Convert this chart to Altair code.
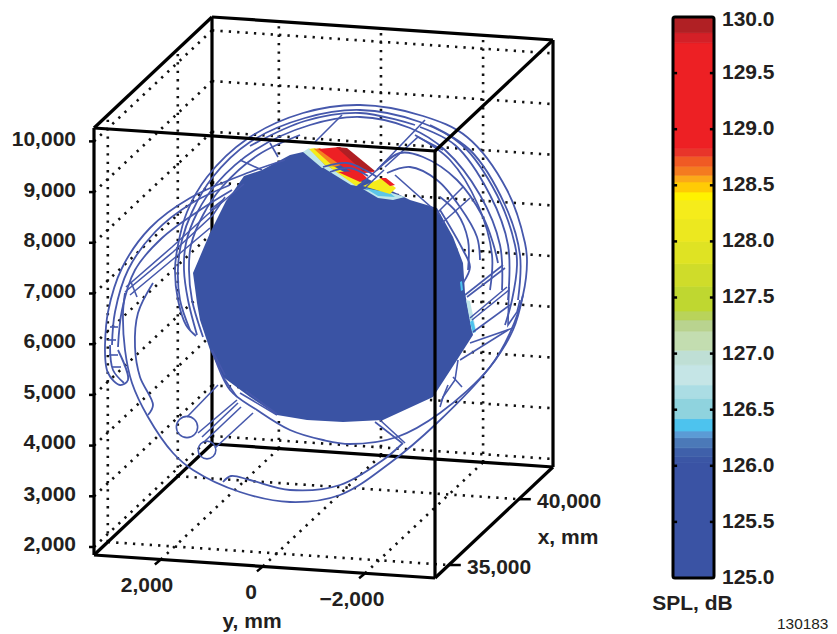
import altair as alt
import pandas as pd

FONT = "Liberation Sans"
INK = "#231f20"
BLUE = "#3a53a4"
WIRE = "#4658ac"

# axis extents (mm)
X_MIN, X_MAX = 34014, 42444
Y_MIN, Y_MAX = -3369, 3309
Z_MIN, Z_MAX = 1842, 10264
x_ticks = [35000, 40000]
y_ticks = [2000, 0, -2000]
z_ticks = [2000, 3000, 4000, 5000, 6000, 7000, 8000, 9000, 10000]

# picture position of the front lower left corner, and the three box edge vectors
ORIGIN = (94, 555)
EDGE_Y = (341, 23)
EDGE_X = (118, -111)
EDGE_Z = (0, -427)


def project(x, y, z):
    fx = (x - X_MIN) / (X_MAX - X_MIN)
    fy = (Y_MAX - y) / (Y_MAX - Y_MIN)
    fz = (z - Z_MIN) / (Z_MAX - Z_MIN)
    return (ORIGIN[0] + fy * EDGE_Y[0] + fx * EDGE_X[0] + fz * EDGE_Z[0],
            ORIGIN[1] + fy * EDGE_Y[1] + fx * EDGE_X[1] + fz * EDGE_Z[1])


def seg(a, b):
    return [project(*a), project(*b)]


# dotted grid
grid_segs = []
for z in z_ticks:
    grid_segs.append(seg((X_MAX, Y_MAX, z), (X_MAX, Y_MIN, z)))
    grid_segs.append(seg((X_MIN, Y_MAX, z), (X_MAX, Y_MAX, z)))
for y in y_ticks:
    grid_segs.append(seg((X_MAX, y, Z_MIN), (X_MAX, y, Z_MAX)))
    grid_segs.append(seg((X_MIN, y, Z_MIN), (X_MAX, y, Z_MIN)))
for x in x_ticks:
    grid_segs.append(seg((x, Y_MAX, Z_MIN), (x, Y_MAX, Z_MAX)))
    grid_segs.append(seg((x, Y_MAX, Z_MIN), (x, Y_MIN, Z_MIN)))

# box edges behind and in front of the surface
back_segs = [
    seg((X_MAX, Y_MAX, Z_MIN), (X_MAX, Y_MAX, Z_MAX)),
    seg((X_MAX, Y_MAX, Z_MIN), (X_MAX, Y_MIN, Z_MIN)),
    seg((X_MAX, Y_MAX, Z_MIN), (X_MIN, Y_MAX, Z_MIN)),
]
front_segs = [
    seg((X_MIN, Y_MAX, Z_MIN), (X_MIN, Y_MIN, Z_MIN)),
    seg((X_MIN, Y_MIN, Z_MIN), (X_MAX, Y_MIN, Z_MIN)),
    seg((X_MAX, Y_MIN, Z_MIN), (X_MAX, Y_MIN, Z_MAX)),
    seg((X_MAX, Y_MIN, Z_MAX), (X_MAX, Y_MAX, Z_MAX)),
    seg((X_MAX, Y_MAX, Z_MAX), (X_MIN, Y_MAX, Z_MAX)),
    seg((X_MIN, Y_MAX, Z_MAX), (X_MIN, Y_MAX, Z_MIN)),
    seg((X_MIN, Y_MAX, Z_MAX), (X_MIN, Y_MIN, Z_MAX)),
    seg((X_MIN, Y_MIN, Z_MAX), (X_MIN, Y_MIN, Z_MIN)),
    seg((X_MIN, Y_MIN, Z_MAX), (X_MAX, Y_MIN, Z_MAX)),
]
# tick stubs
tick_segs = []
for z in z_ticks:
    px, py = project(X_MIN, Y_MAX, z)
    tick_segs.append([(px, py), (px - 5, py)])
for y in y_ticks:
    px, py = project(X_MIN, y, Z_MIN)
    tick_segs.append([(px, py), (px - 6, py + 5)])
for x in x_ticks:
    px, py = project(x, Y_MIN, Z_MIN)
    tick_segs.append([(px, py), (px + 12, py)])

# surface outline
blob = [(303, 152), (290, 155), (262, 170), (244, 176), (233, 192), (226, 201), (210, 233), (193, 273),
        (197, 303), (200, 320), (210, 350), (223, 377), (250, 397), (277, 415), (307, 420), (343, 422),
        (383, 420), (433, 397), (457, 360), (473, 335), (465, 293), (463, 263), (453, 237), (437, 208),
        (410, 200), (360, 175), (320, 150)]

# hot patches on the surface: colour, corner list
hot_patches = [
    ("#bfe6ea", [(303, 152), (309, 148), (327, 167), (322, 168)]),
    ("#f5ec1b", [(309, 149), (315, 148), (335, 167), (326, 166)]),
    ("#f58220", [(314, 149), (320, 148), (341, 165), (334, 167)]),
    ("#ed2024", [(318, 149), (340, 147), (375, 172), (355, 174), (343, 167)]),
    ("#b01f24", [(336, 147), (347, 148), (375, 171), (363, 171)]),
    ("#bfe6ea", [(322, 167), (328, 166), (358, 186), (351, 185)]),
    ("#f5ec1b", [(328, 166), (335, 167), (362, 182), (356, 186)]),
    ("#ed2024", [(338, 172), (360, 171), (367, 178), (360, 182)]),
    ("#bfe6ea", [(363, 189), (392, 193), (405, 197), (393, 200), (378, 198)]),
    ("#5cc6e8", [(365, 188), (390, 193), (395, 197), (378, 196)]),
    ("#f5ec1b", [(363, 186), (382, 178), (396, 188), (390, 194)]),
    ("#ed2024", [(380, 178), (386, 178), (395, 185), (390, 186)]),
    ("#4dc3ee", [(460, 282), (462, 281), (463, 290), (461, 291)]),
    ("#bfe6ea", [(466, 300), (470, 301), (476, 330), (472, 332)]),
    ("#4dc3ee", [(470, 322), (473, 320), (476, 332), (473, 333)]),
]

# smooth wire curves
curves = [
    [(196, 336), (186, 325), (178, 300), (175, 270), (178, 245), (187, 212), (207, 177), (247, 139), (303, 113),
     (360, 105), (423, 116), (467, 137), (507, 190), (525, 243), (527, 262), (523, 295), (510, 333), (490, 367),
     (440, 413), (397, 437), (350, 444), (323, 440), (290, 430), (257, 410), (230, 390), (212, 350)],
    [(190, 330), (180, 300), (178, 268), (182, 240), (192, 212), (212, 178), (250, 142), (305, 118), (360, 110),
     (420, 122), (462, 145), (497, 195), (515, 245), (517, 265), (512, 300), (505, 325)],
    [(197, 335), (188, 300), (184, 270), (186, 243), (197, 213), (217, 183), (255, 150), (310, 125), (360, 117),
     (410, 128), (445, 150), (480, 195), (500, 245), (502, 290)],
    [(203, 337), (192, 300), (189, 270), (191, 245), (203, 215), (222, 187), (258, 155), (300, 135)],
    [(377, 170), (400, 153), (423, 157), (457, 180), (483, 217), (493, 243), (498, 263)],
    [(387, 173), (410, 167), (437, 180), (460, 207), (477, 237), (480, 260)],
    [(440, 197), (457, 213), (468, 240), (468, 270)],
    [(440, 210), (463, 250), (470, 267), (463, 283)],
    [(430, 125), (470, 150), (505, 205), (520, 255), (518, 300)],
    [(420, 127), (455, 145), (490, 195), (508, 245), (508, 300)],
    [(415, 135), (450, 160), (478, 205), (492, 255), (490, 290)],
    [(250, 146), (305, 121), (360, 113), (415, 125)],
    [(105, 345), (108, 312), (122, 268), (150, 228), (190, 198), (250, 172), (285, 160)],
    [(112, 345), (115, 312), (128, 270), (155, 232), (192, 203), (230, 185)],
    [(118, 347), (122, 310), (135, 270), (162, 238), (200, 210), (232, 190)],
    [(105, 345), (108, 373), (120, 385), (128, 380), (118, 350)],
    [(110, 345), (113, 370), (124, 383)],
    [(153, 283), (138, 313), (135, 347), (140, 377), (153, 405), (148, 415)],
    [(125, 293), (123, 313), (125, 350), (132, 383), (148, 417), (173, 453), (193, 470), (240, 492), (290, 502),
     (340, 495), (390, 463), (437, 423), (490, 367), (513, 330), (523, 295)],
    [(223, 482), (231, 476), (250, 480), (290, 490), (340, 485), (383, 460), (403, 443)],
    [(323, 167), (347, 163), (365, 170), (377, 177)],
    [(330, 172), (350, 168), (368, 176)],
]

# straight wire pieces
struts = [
    [(315, 142), (342, 115)], [(377, 170), (425, 120)], [(385, 167), (418, 137), (443, 150)],
    [(270, 143), (278, 157)], [(437, 213), (463, 187)], [(442, 223), (470, 198)],
    [(465, 295), (503, 265)], [(467, 297), (505, 268)], [(470, 318), (507, 287)], [(472, 320), (509, 290)],
    [(473, 332), (510, 305)], [(470, 343), (513, 328)], [(460, 360), (508, 330)],
    [(509, 287), (508, 325), (517, 312), (520, 300)],
    [(458, 360), (455, 380), (443, 397), (440, 407)], [(453, 377), (462, 387)], [(448, 385), (441, 402)],
    [(187, 417), (218, 385)], [(198, 433), (237, 400)], [(202, 437), (238, 403)], [(205, 441), (241, 407)],
    [(215, 448), (253, 413)], [(212, 350), (225, 375)], [(223, 377), (237, 397)], [(240, 393), (277, 415)],
    [(246, 391), (277, 414)], [(375, 422), (402, 443)], [(380, 420), (405, 443)],
    [(125, 292), (173, 252), (213, 215), (225, 197)], [(130, 295), (178, 255), (210, 228)],
    [(126, 287), (172, 247), (207, 215), (244, 184)], [(210, 210), (223, 200)],
    [(360, 185), (377, 170)], [(366, 187), (384, 170)], [(240, 160), (262, 170)],
    [(395, 175), (440, 215)], [(110, 327), (118, 327)], [(108, 340), (116, 340)], [(109, 355), (118, 355)],
    [(112, 367), (121, 367)], [(131, 282), (137, 297)],
]

# hub circles: centre, radius
circle_x = [187, 207]
circle_y = [427, 450]
circle_r = [12, 10]

# tick and axis text
z_label_y = [545, 495, 443, 393, 342, 292, 241, 191, 140]
z_labels = ["2,000", "3,000", "4,000", "5,000", "6,000", "7,000", "8,000", "9,000", "10,000"]
text_items = [
    ("2,000", 147, 586, "center"), ("0", 251, 593, "center"), ("\u22122,000", 352, 600, "center"),
    ("y, mm", 252, 622, "center"), ("x, mm", 568, 538, "center"),
    ("35,000", 467, 568, "left"), ("40,000", 537, 502, "left"),
]
text_items += [(t, 76, v, "right") for t, v in zip(z_labels, z_label_y)]

# colour bar bands: edges between them, and one colour for each
band_edges = [125.0, 126.03, 126.08, 126.16, 126.25, 126.31, 126.42, 126.6, 126.72, 126.9, 127.03, 127.2, 127.3,
              127.38, 127.6, 127.8, 128.0, 128.2, 128.37, 128.44, 128.53, 128.59, 128.67, 128.76, 128.83, 129.77,
              129.86, 130.0]
band_colors = ["#3a53a4", "#3b56a5", "#3f60aa", "#4b79b8", "#5b9bd5", "#4dc3ee", "#8fd3de", "#abdde4",
               "#c5e5e6", "#bfdfd5", "#c3ddb0", "#b9d38f", "#b9d35a", "#bfd730", "#cfdc2a", "#dfe323",
               "#ece81f", "#f5ec1b", "#fff200", "#ffcb05", "#fba919", "#f47b20", "#f05a24", "#e8352a",
               "#ed2024", "#d42027", "#b02024"]
bar_ticks = [125.5, 126.0, 126.5, 127.0, 127.5, 128.0, 128.5, 129.0, 129.5]
bar_labels = [125.0, 125.5, 126.0, 126.5, 127.0, 127.5, 128.0, 128.5, 129.0, 129.5, 130.0]
# where each label sits: the top one is nudged down so that it stays on the page
bar_label_pos = [125.0, 125.5, 126.0, 126.5, 127.0, 127.5, 128.0, 128.5, 129.0, 129.5, 129.97]

PX_X = alt.Scale(domain=[8, 829], nice=False, zero=False)
PX_Y = alt.Scale(domain=[634, 8], nice=False, zero=False)


def frame(groups):
    rows = []
    for g, pts in enumerate(groups):
        for i, (a, b) in enumerate(pts):
            rows.append({"h": a, "v": b, "g": g, "i": i})
    return pd.DataFrame(rows)


def lines(groups, **kw):
    return alt.Chart(frame(groups)).mark_line(**kw).encode(
        x=alt.X("h:Q", scale=PX_X, axis=None),
        y=alt.Y("v:Q", scale=PX_Y, axis=None),
        detail="g:N",
        order="i:Q",
    )


def area(pts, color):
    return lines([pts], color=color, strokeWidth=0.3, interpolate="linear-closed", filled=True)


grid = lines(grid_segs, color="#111111", strokeWidth=2.6, strokeDash=[2.3, 6.1], strokeCap="butt")
back = lines(back_segs, color="#000000", strokeWidth=3.2)
surface = area(blob, BLUE)
patches = [area(p, c) for c, p in hot_patches]
wire_c = lines(curves, color=WIRE, strokeWidth=1.8, interpolate="catmull-rom")
wire_s = lines(struts, color=WIRE, strokeWidth=1.6)
hubs = alt.Chart(pd.DataFrame({"h": circle_x, "v": circle_y, "r": circle_r})).transform_calculate(
    r2="PI * datum.r * datum.r"
).mark_point(filled=False, color=WIRE, strokeWidth=1.6, opacity=1).encode(
    x=alt.X("h:Q", scale=PX_X, axis=None),
    y=alt.Y("v:Q", scale=PX_Y, axis=None),
    size=alt.Size("r2:Q", scale=None, legend=None),
)
front = lines(front_segs, color="#000000", strokeWidth=3.2)
stubs = lines(tick_segs, color="#000000", strokeWidth=2.5)

labels = []
tdf = pd.DataFrame(text_items, columns=["t", "h", "v", "a"])
for al in ["left", "center", "right"]:
    labels.append(
        alt.Chart(tdf[tdf.a == al]).mark_text(
            font=FONT, fontSize=21, fontWeight="bold", color=INK, align=al, baseline="middle"
        ).encode(
            x=alt.X("h:Q", scale=PX_X, axis=None),
            y=alt.Y("v:Q", scale=PX_Y, axis=None),
            text="t:N",
        )
    )

# colour bar, on a value scale of its own
BAR_Y = alt.Scale(domain=[124.5009, 130.0802], nice=False, zero=False)
BAR_X = alt.Scale(domain=[-16.22, 3.805], nice=False, zero=False)
bands = pd.DataFrame({"lo": band_edges[:-1], "hi": band_edges[1:], "c": band_colors, "x0": 0, "x1": 1})
bar = alt.Chart(bands).mark_rect(strokeWidth=0.7).encode(
    x=alt.X("x0:Q", scale=BAR_X, axis=None),
    x2="x1:Q",
    y=alt.Y("lo:Q", scale=BAR_Y, axis=None),
    y2="hi:Q",
    fill=alt.Fill("c:N", scale=None),
    stroke=alt.Stroke("c:N", scale=None),
)
outline = alt.Chart(pd.DataFrame({"lo": [125.0], "hi": [130.0], "x0": [0], "x1": [1]})).mark_rect(
    fill=None, stroke="#000000", strokeWidth=3, cornerRadius=2
).encode(
    x=alt.X("x0:Q", scale=BAR_X, axis=None), x2="x1:Q",
    y=alt.Y("lo:Q", scale=BAR_Y, axis=None), y2="hi:Q",
)
tk = pd.DataFrame({"v": bar_ticks * 2, "a": [0] * 9 + [0.9] * 9, "b": [0.1] * 9 + [1] * 9})
bar_ticks_layer = alt.Chart(tk).mark_rule(color="#000000", strokeWidth=2.5).encode(
    x=alt.X("a:Q", scale=BAR_X, axis=None), x2="b:Q",
    y=alt.Y("v:Q", scale=BAR_Y, axis=None),
)
bar_text = pd.DataFrame({"v": bar_label_pos, "n": bar_labels, "x": [1.195] * len(bar_labels)})
bar_text["t"] = bar_text["n"].map(lambda n: f"{n:.1f}")
bar_labels_layer = alt.Chart(bar_text).mark_text(
    font=FONT, fontSize=21, fontWeight="bold", color=INK, align="left", baseline="middle"
).encode(
    x=alt.X("x:Q", scale=BAR_X, axis=None), y=alt.Y("v:Q", scale=BAR_Y, axis=None), text="t:N"
)
note = pd.DataFrame({"t": ["SPL, dB"], "x": [0.476], "y": [124.768]})
spl = alt.Chart(note).mark_text(font=FONT, fontSize=21, fontWeight="bold", color=INK, baseline="middle").encode(
    x=alt.X("x:Q", scale=BAR_X, axis=None), y=alt.Y("y:Q", scale=BAR_Y, axis=None), text="t:N"
)
code = pd.DataFrame({"t": ["130183"], "x": [3.79], "y": [124.59]})
fig_no = alt.Chart(code).mark_text(font=FONT, fontSize=15.4, color=INK, align="right", baseline="middle").encode(
    x=alt.X("x:Q", scale=BAR_X, axis=None), y=alt.Y("y:Q", scale=BAR_Y, axis=None), text="t:N"
)

chart = alt.layer(
    grid, back, surface, *patches, wire_c, wire_s, hubs, front, stubs, *labels,
    bar, outline, bar_ticks_layer, bar_labels_layer, spl, fig_no,
).resolve_scale(x="independent", y="independent").properties(
    width=821, height=626, padding=0, background="white",
    autosize=alt.AutoSizeParams(type="none"),
).configure_view(stroke=None)
chart.save("out.html", embed_options={"renderer": "svg", "actions": False})
